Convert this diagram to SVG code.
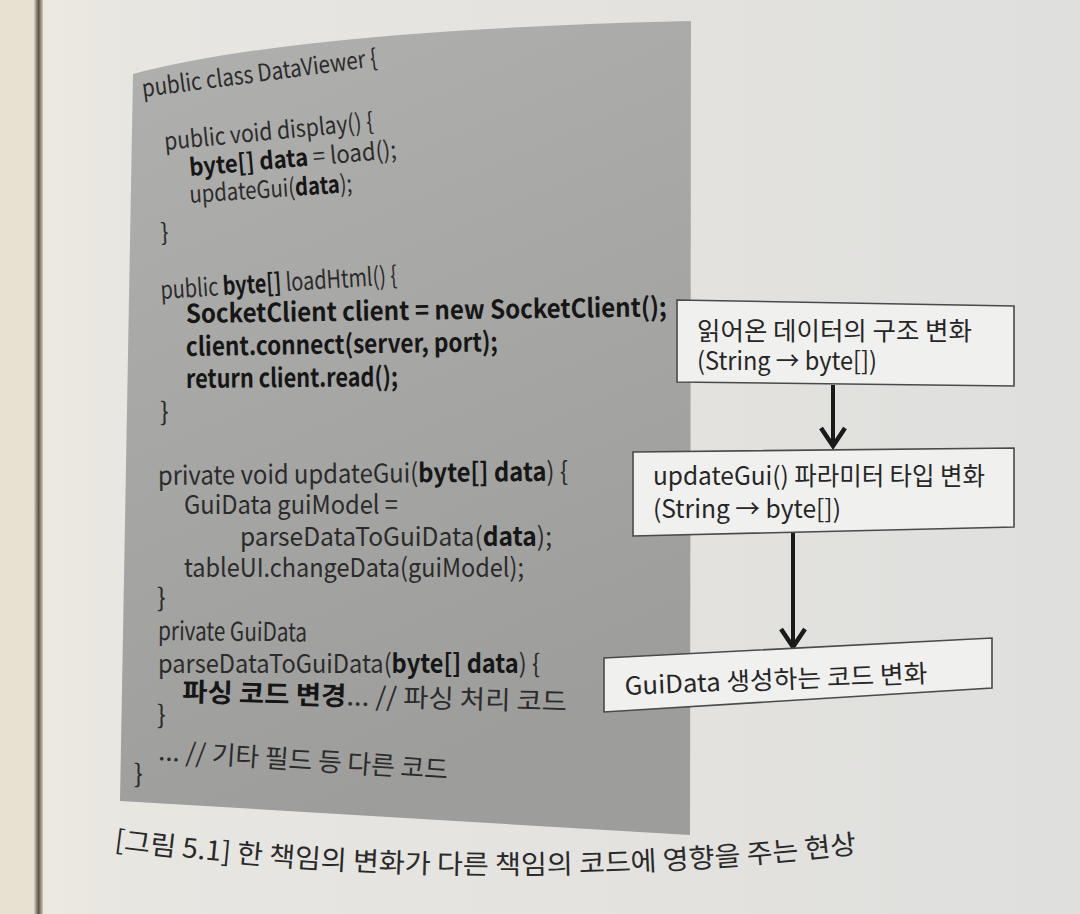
<svg xmlns="http://www.w3.org/2000/svg" width="1080" height="914" viewBox="0 0 1080 914">
<defs>
  <linearGradient id="pageGrad" x1="0" y1="0" x2="1" y2="0">
    <stop offset="0" stop-color="#efebe1"/>
    <stop offset="0.12" stop-color="#e8e6e1"/>
    <stop offset="1" stop-color="#dfdfdd"/>
  </linearGradient>
  <linearGradient id="gutter" x1="0" y1="0" x2="1" y2="0">
    <stop offset="0" stop-color="#d9d2c0"/>
    <stop offset="0.5" stop-color="#5b5244"/>
    <stop offset="1" stop-color="#cfc8b6"/>
  </linearGradient>
  <linearGradient id="panelGrad" x1="0" y1="0" x2="0.3" y2="1">
    <stop offset="0" stop-color="#b0b0ae"/>
    <stop offset="1" stop-color="#9d9d9b"/>
  </linearGradient>
  <marker id="arr" markerUnits="userSpaceOnUse" markerWidth="34" markerHeight="34" viewBox="0 0 34 34" refX="24" refY="17" orient="auto">
    <path d="M6,5 L24,17 L6,29" fill="none" stroke="#1a1a1a" stroke-width="4.5" stroke-linejoin="miter"/>
  </marker>
  <path id="capPath" d="M114,849 Q490,898 866,852"/>
</defs>
<style>
  .code { font-family: "Noto Sans CJK KR", "Noto Sans", sans-serif; fill: #2b2b2b; }
  .b { font-weight: 700; fill: #161616; }
  .box { fill: #f0f0ee; stroke: #4a4a4a; stroke-width: 1.6; }
  .lbl { font-family: "Noto Sans CJK KR", "Noto Sans", sans-serif; font-size: 25px; fill: #262626; }
  .cap { font-family: "Noto Sans CJK KR", "Noto Sans", sans-serif; font-size: 27px; fill: #2a2a2a; }
  .conn { stroke: #1a1a1a; stroke-width: 4; fill: none; }
</style>

<g id="background">
  <rect x="0" y="0" width="1080" height="914" fill="url(#pageGrad)"/>
  <rect x="0" y="0" width="36" height="914" fill="#e7e1d1"/>
  <rect x="34" y="0" width="9" height="914" fill="url(#gutter)"/>
</g>

<g id="code-panel">
  <path d="M133,74 Q300,30 691,21 L690,835 L120,801 Z" fill="url(#panelGrad)"/>
  <g class="code">
    <text x="143" y="97" font-size="24" transform="rotate(-7.5 143 97)" textLength="237" lengthAdjust="spacingAndGlyphs">public class DataViewer {</text>
    <text x="165" y="150" font-size="24" transform="rotate(-5.5 165 150)" textLength="210" lengthAdjust="spacingAndGlyphs">public void display() {</text>
    <text x="190" y="176" font-size="24" transform="rotate(-5 190 176)" textLength="208" lengthAdjust="spacingAndGlyphs"><tspan class="b">byte[] data</tspan> = load();</text>
    <text x="190" y="203" font-size="24" transform="rotate(-3.9 190 203)" textLength="163" lengthAdjust="spacingAndGlyphs">updateGui(<tspan class="b">data</tspan>);</text>
    <text x="161" y="241" font-size="24" transform="rotate(-3 161 241)">}</text>
    <text x="161" y="299" font-size="25" transform="rotate(-3.6 161 299)" textLength="237" lengthAdjust="spacingAndGlyphs">public <tspan class="b">byte[]</tspan> loadHtml() {</text>
    <text x="186" y="323" font-size="26" transform="rotate(-0.8 186 323)" textLength="481" lengthAdjust="spacingAndGlyphs" class="b">SocketClient client = new SocketClient();</text>
    <text x="186" y="356" font-size="26" transform="rotate(-0.9 186 356)" textLength="312" lengthAdjust="spacingAndGlyphs" class="b">client.connect(server, port);</text>
    <text x="186" y="388" font-size="26" transform="rotate(-0.5 186 388)" textLength="212" lengthAdjust="spacingAndGlyphs" class="b">return client.read();</text>
    <text x="160" y="421" font-size="26">}</text>
    <text x="158" y="485" font-size="26" transform="rotate(-0.6 158 485)" textLength="410" lengthAdjust="spacingAndGlyphs">private void updateGui(<tspan class="b">byte[] data</tspan>) {</text>
    <text x="184" y="514" font-size="26" textLength="214" lengthAdjust="spacingAndGlyphs">GuiData guiModel =</text>
    <text x="240" y="546" font-size="26" textLength="312" lengthAdjust="spacingAndGlyphs">parseDataToGuiData(<tspan class="b">data</tspan>);</text>
    <text x="184" y="577" font-size="26" textLength="340" lengthAdjust="spacingAndGlyphs">tableUI.changeData(guiModel);</text>
    <text x="157" y="607" font-size="26">}</text>
    <text x="158" y="640" font-size="26" transform="rotate(0.6 158 640)" textLength="149" lengthAdjust="spacingAndGlyphs">private GuiData</text>
    <text x="158" y="673" font-size="26" textLength="382" lengthAdjust="spacingAndGlyphs">parseDataToGuiData(<tspan class="b">byte[] data</tspan>) {</text>
    <text x="182" y="701" font-size="26" transform="rotate(1.5 182 701)" textLength="385" lengthAdjust="spacingAndGlyphs"><tspan class="b">파싱 코드 변경</tspan>... // 파싱 처리 코드</text>
    <text x="157" y="724" font-size="26">}</text>
    <text x="158" y="760" font-size="26" transform="rotate(3.8 158 760)" textLength="290" lengthAdjust="spacingAndGlyphs">... // 기타 필드 등 다른 코드</text>
    <text x="134" y="783" font-size="26">}</text>
  </g>
</g>

<g id="connectors">
  <line class="conn" x1="833" y1="385" x2="833" y2="446" marker-end="url(#arr)"/>
  <line class="conn" x1="793" y1="532" x2="793" y2="647" marker-end="url(#arr)"/>
</g>

<g id="node-data-structure">
  <polygon class="box" points="677,300 1014,306 1014,386 677,382"/>
  <text class="lbl" x="697" y="340" textLength="275" lengthAdjust="spacingAndGlyphs">읽어온 데이터의 구조 변화</text>
  <text class="lbl" x="697" y="370" textLength="180" lengthAdjust="spacingAndGlyphs">(String → byte[])</text>
</g>

<g id="node-updategui-param">
  <polygon class="box" points="633,452 1014,448 1014,527 633,536"/>
  <text class="lbl" x="653" y="485" textLength="332" lengthAdjust="spacingAndGlyphs">updateGui() 파라미터 타입 변화</text>
  <text class="lbl" x="653" y="518" textLength="188" lengthAdjust="spacingAndGlyphs">(String → byte[])</text>
</g>

<g id="node-guidata">
  <polygon class="box" points="604,658 992,638 992,688 604,712"/>
  <text class="lbl" x="625" y="695" font-size="26" transform="rotate(-2.4 625 695)" textLength="303" lengthAdjust="spacingAndGlyphs">GuiData 생성하는 코드 변화</text>
</g>

<g id="caption">
  <text class="cap"><textPath href="#capPath" textLength="745" lengthAdjust="spacingAndGlyphs">[그림 5.1] 한 책임의 변화가 다른 책임의 코드에 영향을 주는 현상</textPath></text>
</g>
</svg>
